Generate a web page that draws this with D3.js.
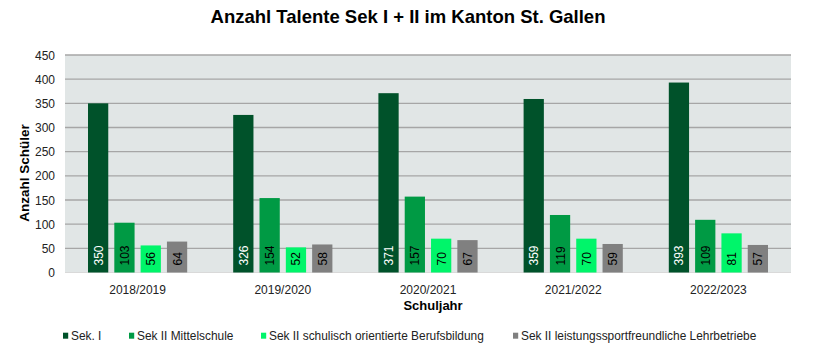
<!DOCTYPE html>
<html><head><meta charset="utf-8">
<script src="https://cdn.jsdelivr.net/npm/d3@7"></script>
<style>body{margin:0;background:#fff;font-family:"Liberation Sans",Arial,sans-serif;}</style>
</head><body>
<svg id="c" width="818" height="352"></svg>
<script>
const categories = ["2018/2019","2019/2020","2020/2021","2021/2022","2022/2023"];
const seriesNames = ["Sek. I","Sek II Mittelschule","Sek II schulisch orientierte Berufsbildung","Sek II leistungssportfreundliche Lehrbetriebe"];
const sek1 = [350,326,371,359,393];
const mittelschule = [103,154,157,119,109];
const berufsbildung = [56,52,70,70,81];
const lehrbetriebe = [64,58,67,59,57];
const yTicks = [0,50,100,150,200,250,300,350,400,450];
const colors = ["#00522a","#009a44","#00f56a","#808080"];
const labelColors = ["#fff","#000","#000","#000"];
const series = [sek1, mittelschule, berufsbildung, lehrbetriebe];

const svg = d3.select("#c");
const m = {l:65, r:791, t:55, b:272.5};
const x = d3.scaleBand().domain(categories).range([m.l, m.r]);
const xs = d3.scaleBand().domain(d3.range(4)).range([23, x.bandwidth()-23]).paddingInner(0.23).paddingOuter(0);
const y = d3.scaleLinear().domain([0,450]).range([m.b, m.t]);

svg.append("rect").attr("x",m.l).attr("y",m.t).attr("width",m.r-m.l).attr("height",m.b-m.t).attr("fill","#e1e6e6");
svg.append("g").selectAll("line").data(yTicks.slice(1)).join("line")
  .attr("x1",m.l).attr("x2",m.r).attr("y1",d=>y(d)).attr("y2",d=>y(d))
  .attr("stroke","#a6a6a6").attr("stroke-width",1.3);
svg.append("line").attr("x1",m.l).attr("x2",m.r).attr("y1",y(0)).attr("y2",y(0)).attr("stroke","#d9d9d9").attr("stroke-width",1);

svg.append("g").selectAll("text").data(yTicks).join("text")
  .attr("x",m.l-10).attr("y",d=>y(d)+4.5).attr("text-anchor","end")
  .attr("font-size",12).attr("fill","#222").text(d=>d);

series.forEach((vals,si)=>{
  const g = svg.append("g");
  g.selectAll("rect").data(vals).join("rect")
    .attr("x",(d,i)=>x(categories[i])+xs(si)).attr("width",xs.bandwidth())
    .attr("y",d=>y(d)).attr("height",d=>y(0)-y(d)).attr("fill",colors[si]);
  g.selectAll("text").data(vals).join("text")
    .attr("transform",(d,i)=>`translate(${x(categories[i])+xs(si)+xs.bandwidth()/2+4.5},${y(0)-7}) rotate(-90)`)
    .attr("font-size",12).attr("fill",labelColors[si]).text(d=>d);
});

svg.append("g").selectAll("text").data(categories).join("text")
  .attr("x",d=>x(d)+x.bandwidth()/2).attr("y",294).attr("text-anchor","middle")
  .attr("font-size",12).attr("fill","#222").text(d=>d);

svg.append("text").attr("x",408).attr("y",23).attr("text-anchor","middle")
  .attr("font-size",18.5).attr("font-weight","bold").text("Anzahl Talente Sek I + II im Kanton St. Gallen");
svg.append("text").attr("x",433).attr("y",310).attr("text-anchor","middle")
  .attr("font-size",13).attr("font-weight","bold").text("Schuljahr");
svg.append("text").attr("transform",`translate(28.5,173) rotate(-90)`).attr("text-anchor","middle")
  .attr("font-size",13.5).attr("font-weight","bold").text("Anzahl Schüler");

const legX = [63,129,261,513];
const lg = svg.append("g");
seriesNames.forEach((n,i)=>{
  lg.append("rect").attr("x",legX[i]).attr("y",332.7).attr("width",5.2).attr("height",6).attr("fill",colors[i]);
  lg.append("text").attr("x",legX[i]+8).attr("y",339.5).attr("font-size",11.9).attr("fill","#222").text(n);
});
</script>
</body></html>
